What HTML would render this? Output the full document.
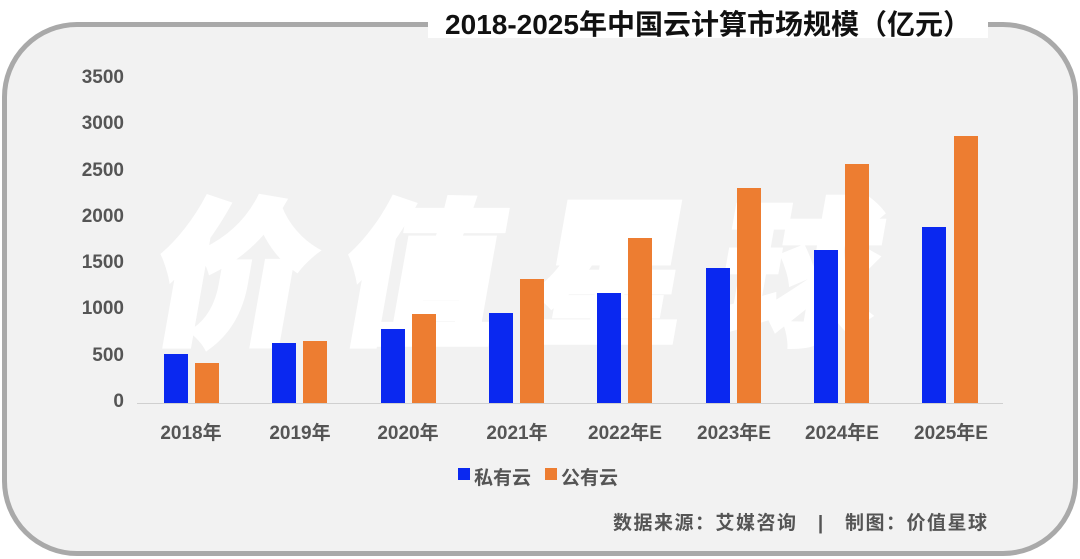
<!DOCTYPE html>
<html><head><meta charset="utf-8"><style>
html,body{margin:0;padding:0;background:#fff;}
body{width:1080px;height:559px;position:relative;overflow:hidden;font-family:"Liberation Sans","Noto Sans CJK SC",sans-serif;}
.box{position:absolute;left:2px;top:22px;width:1066px;height:524px;border:5px solid #a9a9a9;border-radius:75px;background:#f2f2f2;}
.tbg{position:absolute;left:428px;top:0;width:560px;height:38px;background:#fff;}
.title{position:absolute;left:425px;top:3px;width:566px;text-align:center;font-size:28px;font-weight:bold;color:#111;letter-spacing:0px;}
.wm{position:absolute;left:160px;top:178px;font-size:156px;font-weight:900;color:#fff;letter-spacing:32px;transform:skewX(-10deg);white-space:nowrap;line-height:1.1;font-family:"Noto Sans CJK SC",sans-serif;-webkit-text-stroke:6px #fff;}
.yl{position:absolute;left:60px;width:64px;text-align:right;font-size:19px;font-weight:bold;color:#555;}
.xl{position:absolute;top:418px;width:110px;text-align:center;font-size:19px;font-weight:bold;color:#555;}
.bar{position:absolute;width:24px;}
.b{background:#0a28f0}.o{background:#ed7d31}
.axis{position:absolute;left:137px;top:403px;width:866px;height:1px;background:#d0d0d0;}
.leg{position:absolute;top:463px;font-size:19px;font-weight:bold;color:#555;}
.sq{position:absolute;top:468px;width:12px;height:12px;}
.foot{position:absolute;left:613px;top:508px;font-size:19px;font-weight:bold;color:#555;white-space:nowrap;letter-spacing:1.5px;}
</style></head><body>
<div class="box"></div>
<div class="tbg"></div>
<div class="title">2018-2025年中国云计算市场规模（亿元）</div>
<div class="wm">价值星球</div>
<div class="yl" style="top:67px">3500</div>
<div class="yl" style="top:113px">3000</div>
<div class="yl" style="top:160px">2500</div>
<div class="yl" style="top:206px">2000</div>
<div class="yl" style="top:252px">1500</div>
<div class="yl" style="top:298px">1000</div>
<div class="yl" style="top:345px">500</div>
<div class="yl" style="top:391px">0</div>
<div class="axis"></div>
<div class="bar b" style="left:164px;top:354px;height:49px"></div>
<div class="bar o" style="left:195px;top:363px;height:40px"></div>
<div class="bar b" style="left:272px;top:343px;height:60px"></div>
<div class="bar o" style="left:303px;top:341px;height:62px"></div>
<div class="bar b" style="left:381px;top:329px;height:74px"></div>
<div class="bar o" style="left:412px;top:314px;height:89px"></div>
<div class="bar b" style="left:489px;top:313px;height:90px"></div>
<div class="bar o" style="left:520px;top:279px;height:124px"></div>
<div class="bar b" style="left:597px;top:293px;height:110px"></div>
<div class="bar o" style="left:628px;top:238px;height:165px"></div>
<div class="bar b" style="left:706px;top:268px;height:135px"></div>
<div class="bar o" style="left:737px;top:188px;height:215px"></div>
<div class="bar b" style="left:814px;top:250px;height:153px"></div>
<div class="bar o" style="left:845px;top:164px;height:239px"></div>
<div class="bar b" style="left:922px;top:227px;height:176px"></div>
<div class="bar o" style="left:954px;top:136px;height:267px"></div>
<div class="xl" style="left:136px">2018年</div>
<div class="xl" style="left:245px">2019年</div>
<div class="xl" style="left:353px">2020年</div>
<div class="xl" style="left:462px">2021年</div>
<div class="xl" style="left:570px">2022年E</div>
<div class="xl" style="left:679px">2023年E</div>
<div class="xl" style="left:787px">2024年E</div>
<div class="xl" style="left:896px">2025年E</div>
<div class="sq b" style="left:458px"></div>
<div class="leg" style="left:474px">私有云</div>
<div class="sq o" style="left:545px"></div>
<div class="leg" style="left:561px">公有云</div>
<div class="foot">数据来源：艾媒咨询 &nbsp;&nbsp;|&nbsp;&nbsp; 制图：价值星球</div>
</body></html>
